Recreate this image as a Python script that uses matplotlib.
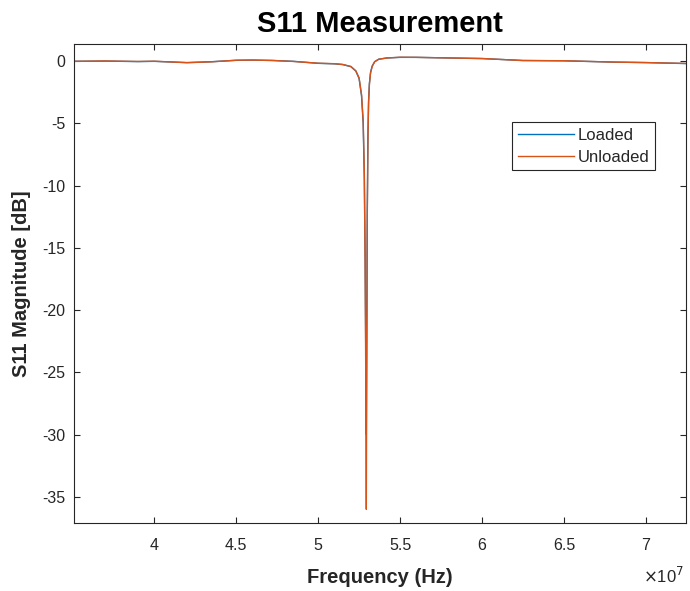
import matplotlib
matplotlib.use("Agg")
from matplotlib import pyplot
from matplotlib.ticker import FuncFormatter

# --------------------------------------------------------------------------
# S11 data (frequency in units of 1e7 Hz, magnitude dB)

freq = [3.50, 3.70, 3.90, 4.00, 4.20, 4.35, 4.50, 4.60, 4.72, 4.85, 5.00,
        5.10, 5.15, 5.20, 5.23, 5.25, 5.265, 5.275, 5.282, 5.287, 5.291,
        5.294, 5.297, 5.300, 5.304, 5.308, 5.313, 5.320, 5.330, 5.345,
        5.370, 5.420, 5.500, 5.600, 5.800, 6.000, 6.250, 6.500, 6.800,
        7.000, 7.250]

loaded = [-0.02, 0.00, -0.04, -0.02, -0.12, -0.05, 0.06, 0.08, 0.05, -0.02,
          -0.18, -0.22, -0.28, -0.45, -0.80, -1.40, -2.80, -5.00, -9.50,
          -16.0, -24.0, -30.0, -22.0, -12.0, -6.00, -3.20, -1.80, -0.90,
          -0.40, -0.05, 0.15, 0.25, 0.30, 0.30, 0.25, 0.20, 0.05, 0.02,
          -0.08, -0.12, -0.20]

unloaded = [-0.02, 0.01, -0.03, -0.01, -0.13, -0.06, 0.07, 0.08, 0.05, -0.03,
            -0.17, -0.21, -0.27, -0.43, -0.78, -1.35, -2.70, -4.80, -9.00,
            -16.5, -26.0, -36.0, -24.0, -12.5, -6.20, -3.30, -1.85, -0.95,
            -0.42, -0.05, 0.15, 0.25, 0.31, 0.30, 0.25, 0.21, 0.04, 0.03,
            -0.08, -0.12, -0.19]

labels = ["Loaded", "Unloaded"]

# --------------------------------------------------------------------------

pyplot.rcParams["font.family"] = ["Liberation Sans", "DejaVu Sans"]
pyplot.rcParams["axes.unicode_minus"] = False

fig = pyplot.figure(figsize=(6.9, 5.91), dpi=100)
ax = fig.add_axes([0.1072, 0.1151, 0.8870, 0.8104])

hz = [f*1e7 for f in freq]
ax.plot(hz, loaded, color="#0072BD", lw=1.0, label=labels[0])
ax.plot(hz, unloaded, color="#D95319", lw=1.0, label=labels[1])

ax.set_xlim(3.51e7, 7.245e7)
ax.set_ylim(-37.1, 1.37)
ax.set_xticks([4e7, 4.5e7, 5e7, 5.5e7, 6e7, 6.5e7, 7e7])
ax.set_yticks([0, -5, -10, -15, -20, -25, -30, -35])
ax.xaxis.set_major_formatter(FuncFormatter(lambda v, pos: "%g" % (v/1e7)))

ax.tick_params(direction="in", length=4, width=0.8, colors="#262626",
               labelsize=11.5, top=True, right=True)
ax.tick_params(axis="x", pad=11)
ax.tick_params(axis="y", pad=6)
for s in ax.spines.values():
    s.set_color("#262626")
    s.set_linewidth(0.8)

fig.text(684/690, 1 - 583/591, r"$\times$10$^{7}$", ha="right", va="baseline",
         fontsize=12, color="#262626")

ax.set_title("S11 Measurement", fontsize=21, fontweight="bold", y=1 + 12/479, pad=0)
ax.set_xlabel("Frequency (Hz)", fontsize=14.5, fontweight="bold", color="#262626")
ax.xaxis.label.set_va("baseline")
ax.xaxis.set_label_coords(0.5, -60/479)
ax.set_ylabel("S11 Magnitude [dB]", fontsize=14.5, fontweight="bold", color="#262626")
ax.yaxis.label.set_va("center")
ax.yaxis.set_label_coords(-52/612, 0.5)

leg = ax.legend(loc="upper left", bbox_to_anchor=(0.7157, 0.837), fancybox=False,
                framealpha=1, edgecolor="#262626", fontsize=12,
                handlelength=3.4, handletextpad=0.18, borderpad=0.34,
                labelspacing=0.42, borderaxespad=0)
leg.get_frame().set_linewidth(0.8)
for t in leg.get_texts():
    t.set_color("#262626")

fig.savefig("out.png", dpi=100)
